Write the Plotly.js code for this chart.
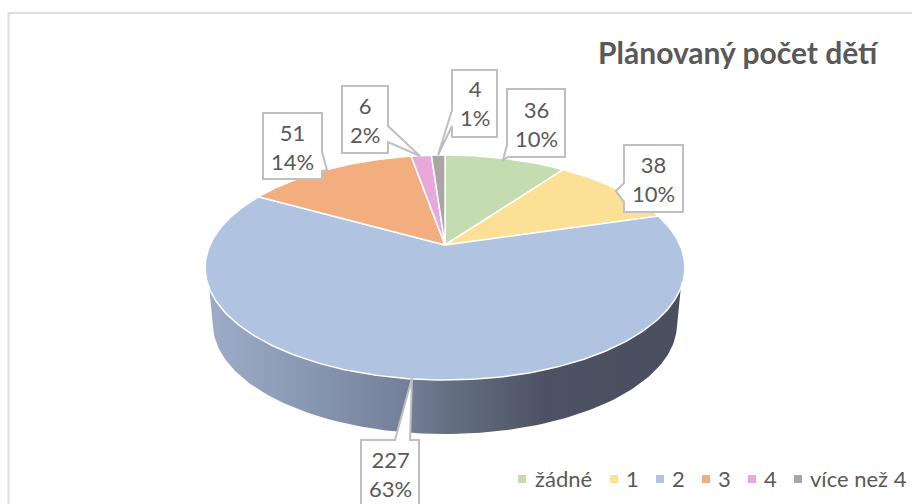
<!DOCTYPE html>
<html><head><meta charset="utf-8">
<script src="https://cdn.plot.ly/plotly-3.0.1.min.js"></script>
<style>html,body{margin:0;padding:0;background:#fff}#c{width:912px;height:504px}</style>
</head><body><div id="c"></div>
<script>
// Data
const categories = ['žádné','1','2','3','4','více než 4'];
const counts = [36,38,227,51,6,4];
const chartTitle = 'Plánovaný počet dětí';

// Styles
const sliceColors = ['#c5dbb0','#fbe095','#b0c4e2','#f2ae7f','#e9a8dc','#aba6a6'];
const textColor = '#595959', FONT = 'Lato, "Open Sans", sans-serif';

// Perspective disc geometry (pixel-space axes)
const CX = 445, CY = 245, A = 235, B = 108, K = 0.2;
function rim(f){ // f = fraction of the turn, clockwise from top
  const t = 2*Math.PI*f, w = 1 + K*Math.cos(t);
  return [CX + A*Math.sin(t)/w, CY - B*Math.cos(t)/w];
}
const total = counts.reduce((a,b)=>a+b,0);
const traces = [];

// Side wall
const wallX = [], wallY = [];
const upper = {cy:267.5,a:239,b:112.5,y0:285};
const lower = {cy:324,a:232,b:110,y0:328};
const arc = (e,rev)=>{
  const s0 = Math.asin((e.y0-e.cy)/e.b), pts=[];
  for(let i=0;i<=120;i++){
    const p = s0 + (Math.PI-2*s0)*i/120; // right to left
    pts.push([CX+e.a*Math.cos(p), e.cy+e.b*Math.sin(p)]);
  }
  return rev?pts.reverse():pts;
};
[...arc(upper,false), ...arc(lower,true)].forEach(p=>{wallX.push(p[0]);wallY.push(p[1]);});
wallX.push(wallX[0]); wallY.push(wallY[0]);
traces.push({type:'scatter',mode:'lines',x:wallX,y:wallY,fill:'toself',
  line:{width:0,color:'rgba(0,0,0,0)'},hoverinfo:'skip',showlegend:false,
  fillgradient:{type:'horizontal',colorscale:[
    [0,'#9dadc9'],[0.2,'#8999b3'],[0.42,'#747f99'],[0.5,'#667085'],
    [0.6,'#596373'],[0.72,'#4c5163'],[1,'#4a4f60']]}});

// Top-face slices
let cum = 0;
counts.forEach((v,i)=>{
  const f0 = cum/total, f1 = (cum+v)/total, n = Math.max(4,Math.round(v*1.2));
  const xs=[CX], ys=[CY];
  for(let j=0;j<=n;j++){ const p = rim(f0+(f1-f0)*j/n); xs.push(p[0]); ys.push(p[1]); }
  xs.push(CX); ys.push(CY);
  traces.push({type:'scatter',mode:'lines',name:categories[i],x:xs,y:ys,fill:'toself',
    fillcolor:sliceColors[i],line:{color:'#ffffff',width:1.5},showlegend:false,
    hoverinfo:'text',text:`${categories[i]}: ${v}`});
  cum += v;
});

const shapes = [
 {type:'line',xref:'x',yref:'y',x0:8,x1:912,y0:13,y1:13,line:{color:'#dedede',width:2}},
 {type:'line',xref:'x',yref:'y',x0:8.5,x1:8.5,y0:12,y1:504,line:{color:'#dedede',width:2}},
];
const annotations = [];

// Key: swatch and label positions
const keyX = [522,614,660,706,752,798];
const keyTextX = [534,625,671,717,763,809];
const keyY = 479;
categories.forEach((c,i)=>{
  traces.push({type:'scatter',mode:'markers',x:[keyX[i]],y:[keyY],cliponaxis:false,showlegend:false,
    hoverinfo:'skip',marker:{symbol:'square',size:8,color:sliceColors[i]}});
  annotations.push({xref:'x',yref:'y',x:keyTextX[i],y:keyY-1,showarrow:false,xanchor:'left',yanchor:'middle',
    xshift:-1,text:c,font:{family:FONT,size:22,color:textColor}});
});

// Callouts in series order: closed outline and label centre
const callouts = [
 {t:[536,124], path:[[507,89],[565,89],[565,157],[508,157],[503,160],[507,145]]},
 {t:[653,179], path:[[624,145],[683,145],[683,212],[624,212],[624,202],[616,191],[624,183]]},
 {t:[390,474], path:[[361,440],[395,440],[412,378],[410,440],[419,440],[419,507],[361,507]]},
 {t:[292,147], path:[[263,113],[322,113],[322,152],[327,170],[322,171],[322,179],[263,179]]},
 {t:[365,120], path:[[342,86],[388,86],[388,126],[420,156],[388,142],[388,153],[342,153]]},
 {t:[474.5,103], path:[[452,70],[497,70],[497,137],[452,137],[452,126],[438,155],[452,110]]},
];
counts.forEach((v,i)=>{
  const k = callouts[i];
  shapes.push({type:'path',xref:'x',yref:'y',fillcolor:'#ffffff',
    line:{color:'#bfbfbf',width:2},
    path:'M'+k.path.map(p=>p.join(',')).join('L')+'Z'});
  annotations.push({xref:'x',yref:'y',x:k.t[0],y:k.t[1],showarrow:false,xanchor:'center',yanchor:'middle',
    text:`${v}<br>${Math.round(v/total*100)}%`,font:{family:FONT,size:22,color:textColor}});
});

Plotly.newPlot('c',traces,{
  width:912,height:504,margin:{l:0,r:0,t:0,b:0},paper_bgcolor:'#fff',plot_bgcolor:'#fff',
  showlegend:false,
  title:{text:chartTitle,x:598/912,xanchor:'left',xref:'paper',y:1-53/504,yanchor:'middle',
    font:{family:FONT,size:30,color:textColor,weight:700}},
  xaxis:{range:[0,912],visible:false,fixedrange:true},
  yaxis:{range:[504,0],visible:false,fixedrange:true},
  shapes,annotations
},{displayModeBar:false,staticPlot:true});
</script></body></html>
